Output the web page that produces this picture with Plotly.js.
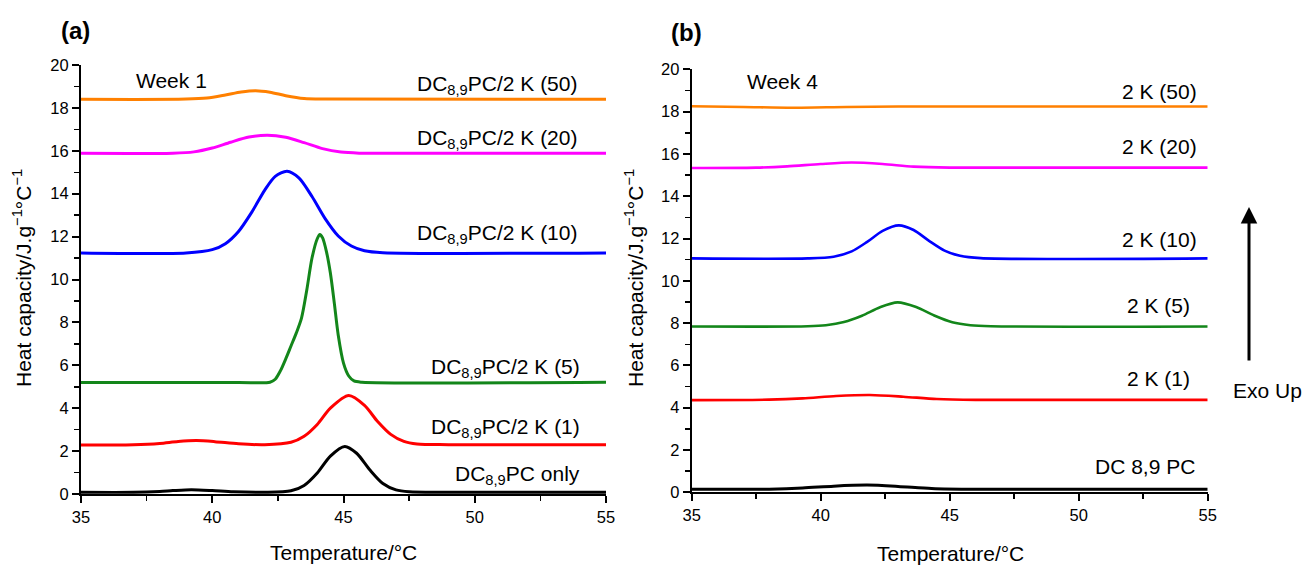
<!DOCTYPE html>
<html>
<head>
<meta charset="utf-8">
<script src="https://cdn.plot.ly/plotly-3.0.1.min.js"></script>
<style>html,body{margin:0;padding:0;background:#fff}#chart{width:1302px;height:566px}</style>
</head>
<body>
<div id="chart"></div>
<script>
// ---------- Panel (a): Week 1 ----------
const a_onlyX = [35, 37, 38, 38.5, 39.2, 40, 40.8, 42, 43, 43.5, 44, 44.5, 45.05, 45.5, 46, 46.5, 47, 47.5, 49, 55];
const a_onlyY = [0.08, 0.08, 0.12, 0.16, 0.2, 0.16, 0.1, 0.08, 0.15, 0.4, 0.98, 1.77, 2.22, 1.9, 1.13, 0.49, 0.19, 0.1, 0.08, 0.08];

const a_k1X = [35, 37, 38, 38.7, 39.4, 40.1, 41, 42, 43, 43.5, 44, 44.5, 45.2, 45.8, 46.3, 46.8, 47.3, 47.8, 49, 55];
const a_k1Y = [2.28, 2.3, 2.36, 2.45, 2.49, 2.44, 2.34, 2.3, 2.41, 2.69, 3.24, 4.0, 4.59, 4.13, 3.38, 2.78, 2.45, 2.33, 2.3, 2.3];

const a_k5X = [35, 41, 42.2, 42.4, 42.6, 42.8, 43.0, 43.2, 43.4, 43.6, 43.8, 44.0, 44.1, 44.2, 44.35, 44.5, 44.65, 44.8, 45.0, 45.2, 45.4, 45.7, 55];
const a_k5Y = [5.2, 5.2, 5.21, 5.35, 5.75, 6.3, 6.9, 7.5, 8.2, 9.5, 11.0, 11.9, 12.1, 11.95, 11.3, 10.3, 8.9, 7.4, 6.1, 5.5, 5.27, 5.21, 5.21];

const a_k10X = [35, 39, 40, 40.5, 41, 41.5, 42, 42.4, 42.85, 43.3, 43.8, 44.3, 44.8, 45.3, 45.8, 46.5, 55];
const a_k10Y = [11.24, 11.24, 11.39, 11.67, 12.24, 13.13, 14.17, 14.81, 15.05, 14.74, 13.87, 12.84, 12.03, 11.56, 11.34, 11.25, 11.24];

const a_k20X = [35, 38.5, 39.3, 40, 40.7, 41.4, 42.1, 42.8, 43.5, 44.2, 44.9, 45.6, 47, 55];
const a_k20Y = [15.88, 15.89, 15.95, 16.13, 16.4, 16.64, 16.73, 16.63, 16.38, 16.1, 15.94, 15.89, 15.88, 15.88];

const a_k50X = [35, 39, 39.8, 40.5, 41.1, 41.65, 42.2, 42.8, 43.5, 44.3, 55];
const a_k50Y = [18.4, 18.41, 18.46, 18.6, 18.74, 18.8, 18.73, 18.57, 18.44, 18.41, 18.4];

// ---------- Panel (b): Week 4 ----------
const b_onlyX = [35, 38, 39.3, 40.5, 41.8, 43, 44.3, 46, 55];
const b_onlyY = [0.14, 0.15, 0.2, 0.29, 0.34, 0.28, 0.18, 0.14, 0.14];

const b_k1X = [35, 38, 39.3, 40.6, 41.9, 43.2, 44.5, 46, 55];
const b_k1Y = [4.36, 4.38, 4.44, 4.55, 4.6, 4.52, 4.41, 4.37, 4.37];

const b_k5X = [35, 39.5, 40.2, 40.9, 41.6, 42.3, 42.98, 43.7, 44.4, 45.1, 45.8, 46.6, 55];
const b_k5Y = [7.84, 7.85, 7.9, 8.05, 8.35, 8.75, 8.98, 8.76, 8.36, 8.04, 7.9, 7.85, 7.84];

const b_k10X = [35, 39.5, 40.5, 41.2, 41.8, 42.4, 43.03, 43.6, 44.2, 44.8, 45.4, 46.2, 55];
const b_k10Y = [11.06, 11.06, 11.14, 11.39, 11.84, 12.36, 12.62, 12.4, 11.89, 11.43, 11.18, 11.07, 11.06];

const b_k20X = [35, 37.5, 38.7, 40, 41.2, 42.4, 43.6, 45, 55];
const b_k20Y = [15.33, 15.35, 15.41, 15.52, 15.59, 15.52, 15.4, 15.35, 15.35];

const b_k50X = [35, 37, 38.9, 41, 43, 55];
const b_k50Y = [18.25, 18.22, 18.18, 18.22, 18.24, 18.24];

// ---------- Text ----------
const labelsA = ["DC<sub>8,9</sub>PC/2 K (50)", "DC<sub>8,9</sub>PC/2 K (20)", "DC<sub>8,9</sub>PC/2 K (10)",
                 "DC<sub>8,9</sub>PC/2 K (5)", "DC<sub>8,9</sub>PC/2 K (1)", "DC<sub>8,9</sub>PC only"];
const labelsB = ["2 K (50)", "2 K (20)", "2 K (10)", "2 K (5)", "2 K (1)", "DC 8,9 PC"];
const weekA = "Week 1", weekB = "Week 4";
const xTitle = "Temperature/°C";
const yTitle = "Heat capacity/J.g<sup>−1</sup>°C<sup>−1</sup>";
const yTicks = [0, 2, 4, 6, 8, 10, 12, 14, 16, 18, 20];
const xTicks = [35, 40, 45, 50, 55];

const colors = {k50: "#ff8000", k20: "#ff00ff", k10: "#0000ff", k5: "#13861a", k1: "#ff0000", only: "#000000"};
const FONT = "Liberation Sans, Arial, sans-serif";

function tr(x, y, color, ax, w) {
  return {x: x, y: y, type: "scatter", mode: "lines", xaxis: ax === 2 ? "x2" : "x", yaxis: ax === 2 ? "y2" : "y",
          line: {color: color, width: w, shape: "spline", smoothing: 0.8}, hoverinfo: "skip", showlegend: false};
}

const data = [
  tr(a_onlyX, a_onlyY, colors.only, 1, 3),
  tr(a_k1X, a_k1Y, colors.k1, 1, 3),
  tr(a_k5X, a_k5Y, colors.k5, 1, 3),
  tr(a_k10X, a_k10Y, colors.k10, 1, 3),
  tr(a_k20X, a_k20Y, colors.k20, 1, 3),
  tr(a_k50X, a_k50Y, colors.k50, 1, 3),
  tr(b_onlyX, b_onlyY, colors.only, 2, 3),
  tr(b_k1X, b_k1Y, colors.k1, 2, 2.6),
  tr(b_k5X, b_k5Y, colors.k5, 2, 2.6),
  tr(b_k10X, b_k10Y, colors.k10, 2, 2.6),
  tr(b_k20X, b_k20Y, colors.k20, 2, 2.6),
  tr(b_k50X, b_k50Y, colors.k50, 2, 2.6)
];

function xa(domain) {
  return {domain: domain, range: [35, 55], tickvals: xTicks, ticktext: xTicks.map(String),
          ticks: "outside", ticklen: 7, tickwidth: 2, tickcolor: "#000",
          showline: true, linecolor: "#000", linewidth: 2, showgrid: false, zeroline: false,
          tickfont: {family: FONT, size: 16.5, color: "#000"},
          minor: {dtick: 2.5, tick0: 35, ticks: "outside", ticklen: 5, tickwidth: 1.5, tickcolor: "#000", showgrid: false}};
}
function ya(domain, anchor) {
  return {domain: domain, range: [0, 20], tickvals: yTicks, ticktext: yTicks.map(String), anchor: anchor,
          ticks: "outside", ticklen: 7, tickwidth: 2, tickcolor: "#000",
          showline: true, linecolor: "#000", linewidth: 2, showgrid: false, zeroline: false,
          tickfont: {family: FONT, size: 16.5, color: "#000"},
          minor: {dtick: 1, tick0: 0, ticks: "outside", ticklen: 5, tickwidth: 1.5, tickcolor: "#000", showgrid: false}};
}

const W = 1302, H = 566;
const px = v => v / W, py = v => (H - v) / H;

const xa1 = xa([px(81), px(606)]); xa1.anchor = "y";
const xa2 = xa([px(691.7), px(1207.7)]); xa2.anchor = "y2";

const textFont = {family: FONT, size: 21, color: "#000"};

function ann(text, x, y, ax, xanchor) {
  return {text: text, x: x, y: y, xref: ax === 2 ? "x2" : "x", yref: ax === 2 ? "y2" : "y",
          xanchor: xanchor, yanchor: "middle", showarrow: false, font: textFont};
}

const annotations = [
  ann(labelsA[0], 53.97, 19.05, 1, "right"),
  ann(labelsA[1], 53.97, 16.56, 1, "right"),
  ann(labelsA[2], 53.97, 12.13, 1, "right"),
  ann(labelsA[3], 54.1, 5.86, 1, "right"),
  ann(labelsA[4], 54.1, 3.06, 1, "right"),
  ann(labelsA[5], 54.1, 0.89, 1, "right"),
  ann(weekA, 37.02, 19.3, 1, "left"),
  ann(labelsB[0], 54.66, 18.95, 2, "right"),
  ann(labelsB[1], 54.66, 16.35, 2, "right"),
  ann(labelsB[2], 54.66, 11.94, 2, "right"),
  ann(labelsB[3], 54.4, 8.83, 2, "right"),
  ann(labelsB[4], 54.4, 5.38, 2, "right"),
  ann(labelsB[5], 54.6, 1.2, 2, "right"),
  ann(weekB, 37.08, 19.41, 2, "left"),
  // axis titles
  {text: xTitle, x: px(343), y: py(552), xref: "paper", yref: "paper", xanchor: "center", yanchor: "middle", showarrow: false, font: textFont},
  {text: xTitle, x: px(950), y: py(553), xref: "paper", yref: "paper", xanchor: "center", yanchor: "middle", showarrow: false, font: textFont},
  {text: yTitle, x: px(22), y: py(278), xref: "paper", yref: "paper", xanchor: "center", yanchor: "middle", textangle: -90, showarrow: false, font: textFont},
  {text: yTitle, x: px(634), y: py(278), xref: "paper", yref: "paper", xanchor: "center", yanchor: "middle", textangle: -90, showarrow: false, font: textFont},
  // panel letters
  {text: "<b>(a)</b>", x: px(75), y: py(30), xref: "paper", yref: "paper", xanchor: "center", yanchor: "middle", showarrow: false, font: {family: FONT, size: 24, color: "#000"}},
  {text: "<b>(b)</b>", x: px(686), y: py(33), xref: "paper", yref: "paper", xanchor: "center", yanchor: "middle", showarrow: false, font: {family: FONT, size: 24, color: "#000"}},
  // Exo Up arrow + text
  {text: "", x: px(1249), y: py(207), xref: "paper", yref: "paper", ax: 0, ay: 155, axref: "pixel", ayref: "pixel",
   showarrow: true, arrowhead: 2, arrowsize: 1.1, arrowwidth: 3, arrowcolor: "#000"},
  {text: "Exo Up", x: px(1267), y: py(390), xref: "paper", yref: "paper", xanchor: "center", yanchor: "middle", showarrow: false, font: textFont}
];

const layout = {
  width: W, height: H, margin: {l: 0, r: 0, t: 0, b: 0},
  paper_bgcolor: "#fff", plot_bgcolor: "rgba(0,0,0,0)",
  showlegend: false,
  xaxis: xa1,
  yaxis: ya([py(494), py(65)], "x"),
  xaxis2: xa2,
  yaxis2: ya([py(492.3), py(69.3)], "x2"),
  annotations: annotations
};

Plotly.newPlot("chart", data, layout, {staticPlot: true, displayModeBar: false});
</script>
</body>
</html>
